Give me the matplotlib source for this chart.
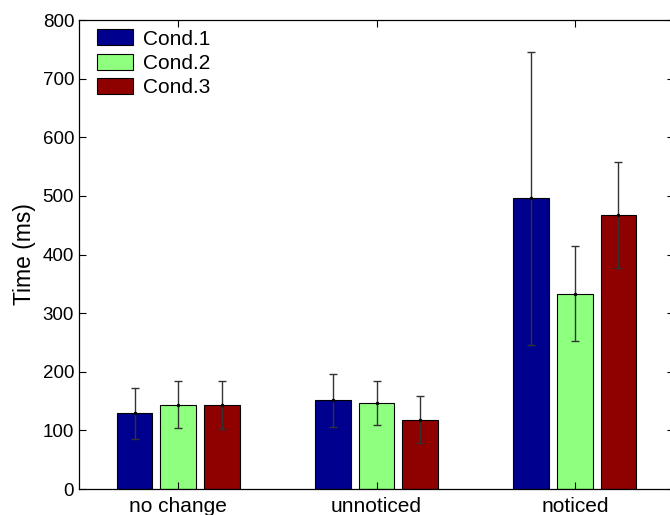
import matplotlib.pyplot as plt
import numpy as np

plt.rcParams['font.family'] = ['Liberation Sans', 'DejaVu Sans']

groups = ['no change', 'unnoticed', 'noticed']
conds = ['Cond.1', 'Cond.2', 'Cond.3']
means = [[129, 151, 496],
         [144, 147, 333],
         [143, 118, 467]]
errs = [[44, 45, 250],
        [40, 38, 81],
        [41, 40, 90]]
colors = ['#00008f', '#8fff80', '#8f0000']

fig = plt.figure(figsize=(6.7, 5.15), dpi=100)
ax = fig.add_axes([79 / 670, 26 / 515, 595 / 670, 469 / 515])

x = np.arange(1, len(groups) + 1)
w = 0.18
offs = [-0.22, 0, 0.22]
for i in range(3):
    ax.bar(x + offs[i], means[i], w, color=colors[i], edgecolor='black',
           linewidth=0.8, label=conds[i])
    ax.errorbar(x + offs[i], means[i], yerr=errs[i], fmt='.', color='black',
                ecolor='#333333', elinewidth=1, capsize=3, capthick=1,
                markersize=3)

ax.set_xlim(0.5, 3.5)
ax.set_ylim(0, 800)
ax.set_xticks(x)
ax.set_xticklabels(groups, fontsize=15)
ax.set_yticks(np.arange(0, 801, 100))
ax.tick_params(axis='y', labelsize=13.5)
ax.tick_params(direction='in', top=True, right=True, length=5, width=0.8)
ax.tick_params(axis='x', pad=6)
for s in ax.spines.values():
    s.set_linewidth(0.9)
ax.set_ylabel('Time (ms)', fontsize=16.5, labelpad=5)

ax.legend(loc='upper left', frameon=False, fontsize=15, handlelength=1.7,
          handleheight=0.8, labelspacing=0.24, borderaxespad=0.0,
          borderpad=0.45, handletextpad=0.5, bbox_to_anchor=(0.015, 1.0))

fig.savefig('out.png', dpi=100)
